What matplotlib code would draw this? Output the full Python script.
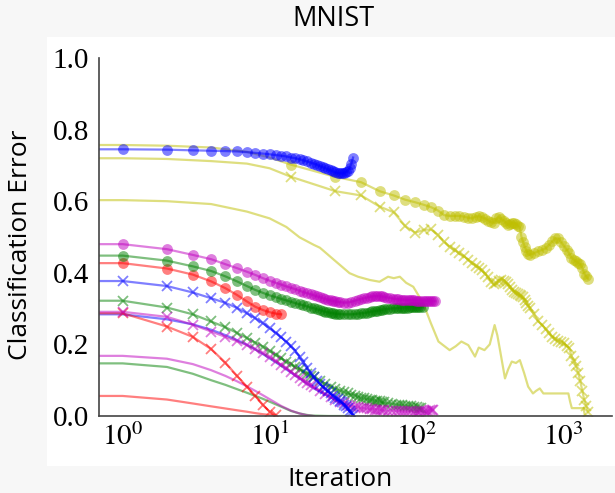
import matplotlib
matplotlib.use("Agg")
import matplotlib.pyplot as plt
from matplotlib.patches import Rectangle

plt.rcParams['mathtext.fontset'] = 'stix'

# ---------------- data (iteration 0 is clipped off the log axis) ----------------
blue_o_it = list(range(0, 38))
blue_o = [0.745, 0.745, 0.744, 0.742, 0.741, 0.740, 0.739, 0.737, 0.735, 0.733, 0.731,
          0.729, 0.727, 0.725, 0.722, 0.720, 0.717, 0.714, 0.711, 0.708, 0.705, 0.702,
          0.698, 0.695, 0.692, 0.689, 0.686, 0.683, 0.681, 0.679, 0.678, 0.678, 0.679,
          0.681, 0.685, 0.692, 0.705, 0.722]

blue_x_it = list(range(0, 38))
blue_x = [0.377, 0.377, 0.363, 0.345, 0.329, 0.316, 0.302, 0.287, 0.273, 0.259, 0.245,
          0.232, 0.220, 0.208, 0.195, 0.182, 0.165, 0.150, 0.135, 0.120, 0.108, 0.098,
          0.090, 0.082, 0.075, 0.069, 0.063, 0.057, 0.051, 0.047, 0.042, 0.038, 0.032,
          0.027, 0.021, 0.014, 0.007, 0.002]

blue_l_it = [0, 1, 2, 3, 4, 5, 6, 7, 8, 9, 10, 12, 14, 16, 18, 20, 22, 24, 26, 28, 30, 32, 34, 36, 37]
blue_l = [0.285, 0.284, 0.270, 0.256, 0.241, 0.226, 0.212, 0.199, 0.186, 0.173, 0.161,
          0.140, 0.121, 0.105, 0.090, 0.077, 0.068, 0.060, 0.052, 0.045, 0.037, 0.028,
          0.018, 0.008, 0.003]

yel_it = ([0, 1, 2, 4, 7, 10, 14, 28, 42, 56, 70, 84, 98, 112, 126, 140, 154, 168, 182]
          + list(range(196, 589, 14)) + list(range(630, 1471, 42)))
yel_o = [0.757, 0.757, 0.755, 0.750, 0.738, 0.722, 0.702, 0.668, 0.653, 0.628, 0.616,
         0.604, 0.597, 0.590, 0.583, 0.574, 0.561, 0.559, 0.559,
         0.559, 0.557, 0.554, 0.552, 0.557, 0.558, 0.555, 0.551, 0.546, 0.541, 0.538,
         0.552, 0.555, 0.550, 0.546, 0.540, 0.534, 0.535, 0.540, 0.540, 0.537, 0.532,
         0.527, 0.500, 0.485, 0.472, 0.462, 0.452, 0.450,
         0.455, 0.460, 0.464, 0.468, 0.478, 0.488, 0.496, 0.496, 0.485, 0.475, 0.465,
         0.455, 0.442, 0.437, 0.432, 0.428, 0.424, 0.414, 0.398, 0.390, 0.383]
yel_x = [0.720, 0.720, 0.718, 0.712, 0.705, 0.692, 0.668, 0.628, 0.616, 0.585, 0.569,
         0.530, 0.512, 0.520, 0.521, 0.505, 0.487, 0.473, 0.463,
         0.454, 0.447, 0.437, 0.428, 0.420, 0.414, 0.408, 0.397, 0.388, 0.375, 0.368,
         0.372, 0.378, 0.380, 0.378, 0.374, 0.368, 0.360, 0.352, 0.346, 0.343, 0.340,
         0.338, 0.336, 0.333, 0.325, 0.317, 0.308, 0.301,
         0.285, 0.265, 0.255, 0.243, 0.232, 0.220, 0.214, 0.210, 0.208, 0.203, 0.196,
         0.190, 0.168, 0.155, 0.140, 0.120, 0.097, 0.070, 0.045, 0.028, 0.012]

yel_l_it = [0, 1, 2, 4, 7, 10, 13, 16, 20, 22, 28, 35, 40, 48, 56, 64, 70, 77, 85, 95, 111,
            125, 141, 155, 168, 185, 202, 225, 250, 265, 290, 315, 340, 355, 370, 400, 420,
            445, 475, 505, 540, 575, 620, 650, 690, 730, 800, 900, 1000, 1080, 1110, 1140,
            1200, 1290, 1370, 1400, 1470]
yel_l = [0.603, 0.603, 0.600, 0.592, 0.571, 0.552, 0.528, 0.499, 0.478, 0.470, 0.433,
         0.399, 0.389, 0.380, 0.375, 0.389, 0.385, 0.389, 0.372, 0.361, 0.315, 0.260,
         0.208, 0.195, 0.184, 0.195, 0.208, 0.198, 0.166, 0.191, 0.184, 0.200, 0.254,
         0.225, 0.184, 0.105, 0.130, 0.152, 0.148, 0.156, 0.120, 0.082, 0.063, 0.070,
         0.077, 0.063, 0.063, 0.063, 0.063, 0.063, 0.040, 0.022, 0.022, 0.022, 0.022,
         0.000, 0.000]

mag_o_it = (list(range(0, 31)) + list(range(32, 61, 2)) + list(range(63, 100, 3))
            + list(range(102, 135, 4)))
mag_o = [0.481, 0.480, 0.466, 0.450, 0.438, 0.424, 0.413, 0.403, 0.394, 0.385, 0.378,
         0.372, 0.367, 0.362, 0.358, 0.354, 0.350, 0.346, 0.343, 0.340, 0.337,
         0.334, 0.332, 0.329, 0.327, 0.325, 0.323, 0.321, 0.320, 0.319, 0.318,
         0.317, 0.317, 0.319, 0.322, 0.325, 0.327, 0.329, 0.331, 0.333, 0.334, 0.335,
         0.335, 0.335, 0.334, 0.333,
         0.331, 0.330, 0.328, 0.327, 0.326, 0.325, 0.325, 0.324, 0.324, 0.323, 0.323,
         0.323, 0.322,
         0.322, 0.322, 0.322, 0.322, 0.322, 0.322, 0.321, 0.321, 0.321]

mag_x_it = list(range(0, 21)) + list(range(22, 61, 2)) + list(range(64, 129, 4)) + [130]
mag_x = [0.291, 0.291, 0.277, 0.255, 0.236, 0.221, 0.209, 0.198, 0.186, 0.175, 0.164,
         0.153, 0.143, 0.133, 0.123, 0.114, 0.106, 0.099, 0.092, 0.086, 0.080,
         0.070, 0.061, 0.053, 0.046, 0.040, 0.035, 0.031, 0.028, 0.026, 0.024, 0.023,
         0.022, 0.021, 0.020, 0.019, 0.018, 0.018, 0.017, 0.017, 0.016,
         0.015, 0.015, 0.014, 0.014, 0.013, 0.013, 0.013, 0.013, 0.012, 0.012, 0.012,
         0.013, 0.013, 0.014, 0.015, 0.016, 0.017,
         0.017]

mag_l_it = [0, 1, 2, 3, 4, 5, 6, 7, 8, 9, 10, 12, 14, 16, 18, 20]
mag_l = [0.168, 0.168, 0.160, 0.145, 0.128, 0.112, 0.097, 0.083, 0.070, 0.058, 0.047,
         0.028, 0.015, 0.007, 0.002, 0.000]

grn_o_it = (list(range(0, 31)) + list(range(32, 61, 2)) + list(range(63, 100, 3))
            + [102, 106, 110])
grn_o = [0.450, 0.448, 0.434, 0.418, 0.405, 0.390, 0.376, 0.363, 0.352, 0.344, 0.337,
         0.332, 0.327, 0.323, 0.319, 0.315, 0.312, 0.309, 0.306, 0.303, 0.301,
         0.298, 0.296, 0.293, 0.291, 0.290, 0.288, 0.287, 0.286, 0.285, 0.285,
         0.284, 0.284, 0.284, 0.285, 0.286, 0.287, 0.288, 0.289, 0.291, 0.292, 0.293,
         0.294, 0.295, 0.297, 0.298,
         0.299, 0.300, 0.301, 0.301, 0.302, 0.302, 0.303, 0.303, 0.303, 0.304, 0.304,
         0.304, 0.304,
         0.304, 0.304, 0.304]

grn_x_it = list(range(0, 21)) + list(range(22, 61, 2)) + list(range(64, 109, 4))
grn_x = [0.323, 0.322, 0.303, 0.284, 0.264, 0.248, 0.232, 0.218, 0.205, 0.194, 0.182,
         0.171, 0.161, 0.152, 0.144, 0.137, 0.130, 0.124, 0.118, 0.113, 0.108,
         0.099, 0.090, 0.082, 0.076, 0.071, 0.067, 0.063, 0.060, 0.057, 0.053, 0.051,
         0.049, 0.047, 0.046, 0.044, 0.043, 0.042, 0.041, 0.039, 0.038,
         0.036, 0.034, 0.032, 0.031, 0.030, 0.029, 0.028, 0.027, 0.026, 0.024, 0.022,
         0.021]

grn_l_it = [0, 1, 2, 3, 4, 5, 6, 7, 8, 9, 10, 12, 14, 16, 18, 20, 25, 34]
grn_l = [0.147, 0.147, 0.137, 0.118, 0.100, 0.087, 0.075, 0.065, 0.056, 0.048, 0.040,
         0.026, 0.014, 0.007, 0.003, 0.001, 0.000, 0.000]

red_o_it = list(range(0, 13))
red_o = [0.427, 0.427, 0.412, 0.395, 0.376, 0.357, 0.338, 0.320, 0.305, 0.296, 0.290,
         0.286, 0.284]

red_x_it = list(range(0, 12))
red_x = [0.287, 0.287, 0.250, 0.221, 0.187, 0.149, 0.112, 0.082, 0.056, 0.031, 0.012,
         0.002]

red_l_it = list(range(0, 12))
red_l = [0.056, 0.056, 0.046, 0.035, 0.027, 0.021, 0.016, 0.012, 0.008, 0.005, 0.003,
         0.001]

x_ticks = [1, 10, 100, 1000]
x_tick_labels = [r'$10^{0}$', r'$10^{1}$', r'$10^{2}$', r'$10^{3}$']
y_ticks = [0.0, 0.2, 0.4, 0.6, 0.8, 1.0]
y_tick_labels = ['0.0', '0.2', '0.4', '0.6', '0.8', '1.0']

# ---------------- figure ----------------
W, H = 615, 493
fig = plt.figure(figsize=(W / 100, H / 100), dpi=100, facecolor='#f7f7f7')
fig.patches.append(Rectangle((47 / W, 1 - 466 / H), (W - 47) / W, (466 - 37) / H,
                             transform=fig.transFigure, facecolor='white',
                             edgecolor='none', zorder=-10))
ax = fig.add_axes([99 / W, 1 - 416 / H, (612 - 99) / W, (416 - 58) / H])
ax.set_facecolor('none')
ax.set_xscale('log')

A = 0.5
LW = 1.6


def draw(it, val, color, marker=None, markevery=None):
    kw = dict(color=color, alpha=A, lw=LW)
    if marker == 'o':
        kw.update(marker='o', ms=7.8, mew=0)
    elif marker == 'x':
        kw.update(marker='x', ms=7, mew=1.3)
    if markevery is not None:
        kw['markevery'] = markevery
    ax.plot(it, val, **kw)


yel_marks = [i for i, t in enumerate(yel_it) if t % 14 == 0]

draw(yel_l_it, yel_l, 'y')
draw(yel_it, yel_x, 'y', 'x', yel_marks)
draw(yel_it, yel_o, 'y', 'o', yel_marks)

draw(red_l_it, red_l, 'r')
draw(grn_l_it, grn_l, 'g')
draw(mag_l_it, mag_l, 'm')
draw(blue_l_it, blue_l, 'b')

draw(red_x_it, red_x, 'r', 'x')
draw(grn_x_it, grn_x, 'g', 'x')
draw(mag_x_it, mag_x, 'm', 'x')
draw(blue_x_it, blue_x, 'b', 'x')

draw(red_o_it, red_o, 'r', 'o')
draw(grn_o_it, grn_o, 'g', 'o')
draw(mag_o_it, mag_o, 'm', 'o')
draw(blue_o_it, blue_o, 'b', 'o')

ax.set_xlim(0.69, 2140)
ax.set_ylim(0, 1.0)
ax.set_xticks(x_ticks)
ax.set_xticklabels(x_tick_labels, fontsize=21)
ax.xaxis.set_minor_locator(matplotlib.ticker.NullLocator())
ax.set_yticks(y_ticks)
ax.set_yticklabels(y_tick_labels, fontsize=21, family='Liberation Serif')
ax.tick_params(axis='both', length=0)
ax.tick_params(axis='y', pad=7)
ax.tick_params(axis='x', pad=5)
for s in ['top', 'right']:
    ax.spines[s].set_visible(False)
for s in ['left', 'bottom']:
    ax.spines[s].set_color('#444444')
    ax.spines[s].set_linewidth(1.2)

fig.text(333 / W, 1 - 19 / H, 'MNIST', ha='center', va='center',
         fontsize=19.5, family='Open Sans')
fig.text(340 / W, 1 - 479 / H, 'Iteration', ha='center', va='center',
         fontsize=19, family='Open Sans')
fig.text(21 / W, 1 - 245 / H, 'Classification Error', ha='center', va='center',
         rotation=90, fontsize=19, family='Open Sans')

fig.savefig('out.png', dpi=100, facecolor=fig.get_facecolor())
